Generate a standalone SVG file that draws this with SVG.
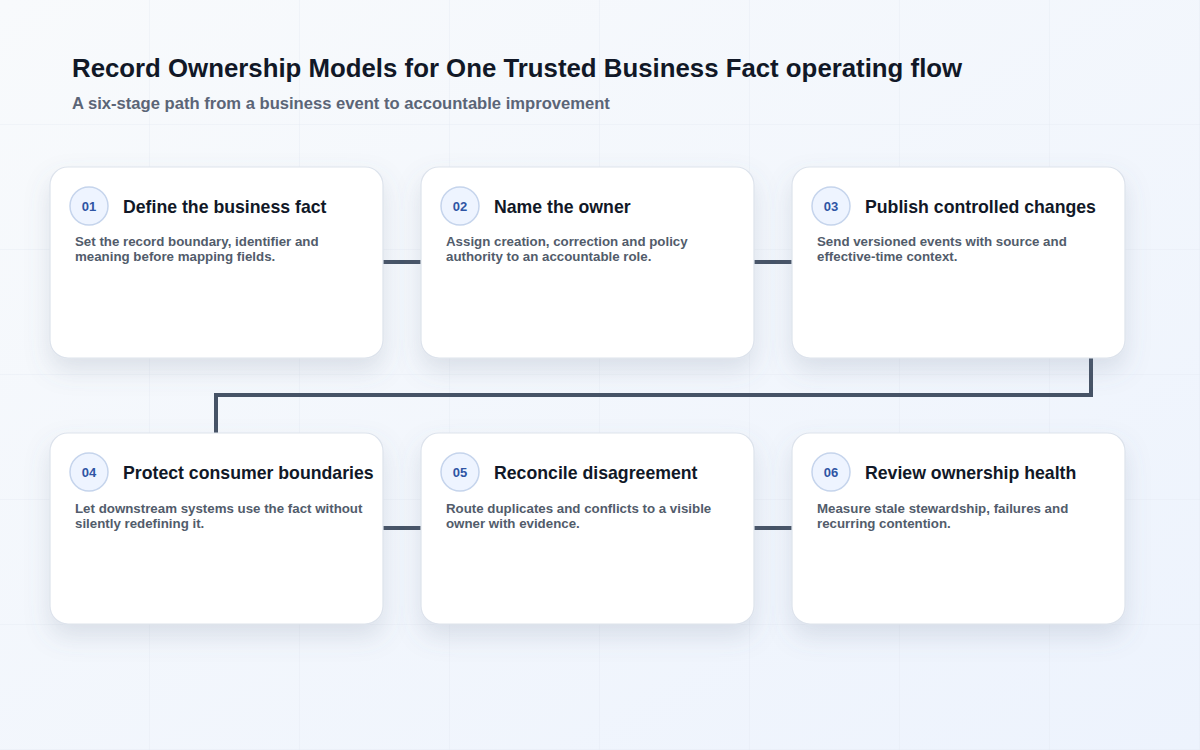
<svg xmlns="http://www.w3.org/2000/svg" width="1200" height="750" viewBox="0 0 1200 750">
  <defs>
    <linearGradient id="bg" x1="0" y1="0" x2="1" y2="1">
      <stop offset="0" stop-color="#f8fafc"/>
      <stop offset="1" stop-color="#edf3fd"/>
    </linearGradient>
    <pattern id="grid" width="150" height="125" patternUnits="userSpaceOnUse">
      <path d="M150 0V125M0 125H150" fill="none" stroke="#e3e9f2" stroke-width="1" opacity="0.7"/>
    </pattern>
    <filter id="shadow" x="-20%" y="-20%" width="140%" height="150%">
      <feDropShadow dx="0" dy="12" stdDeviation="12" flood-color="#64748b" flood-opacity="0.18"/>
    </filter>
    <style>
      .card { fill: #ffffff; stroke: #dde3ec; stroke-width: 1.2; filter: url(#shadow); }
      .badge { fill: #eef4ff; stroke: #c5d4ec; stroke-width: 1.5; }
      .num { font-family: "Liberation Sans", Arial, sans-serif; font-weight: bold; font-size: 13px; fill: #2f55a4; text-anchor: middle; }
      .ttl { font-family: "Liberation Sans", Arial, sans-serif; font-weight: bold; font-size: 17.7px; fill: #111827; }
      .body { font-family: "Liberation Sans", Arial, sans-serif; font-weight: bold; font-size: 13.3px; fill: #525c6b; }
      .conn { fill: none; stroke: #465366; stroke-width: 4; stroke-linejoin: miter; }
    </style>
  </defs>
  <rect width="1200" height="750" fill="url(#bg)"/>
  <rect width="1200" height="750" fill="url(#grid)"/>

  <text x="72" y="77" font-family="'Liberation Sans', Arial, sans-serif" font-weight="bold" font-size="25.8" fill="#111827">Record Ownership Models for One Trusted Business Fact operating flow</text>
  <text x="72" y="109" font-family="'Liberation Sans', Arial, sans-serif" font-weight="bold" font-size="16.6" fill="#5b6577">A six-stage path from a business event to accountable improvement</text>

  <g id="connectors">
    <path class="conn" d="M383 262H421"/>
    <path class="conn" d="M754 262H792"/>
    <path class="conn" d="M1091 358V395H216V433"/>
    <path class="conn" d="M383 528H421"/>
    <path class="conn" d="M754 528H792"/>
  </g>

  <g id="node1">
    <rect class="card" x="50" y="167" width="333" height="191" rx="18"/>
    <circle class="badge" cx="89" cy="206" r="19"/>
    <text class="num" x="89" y="211">01</text>
    <text class="ttl" x="123" y="213">Define the business fact</text>
    <text class="body" x="75" y="246">Set the record boundary, identifier and</text>
    <text class="body" x="75" y="261">meaning before mapping fields.</text>
  </g>
  <g id="node2">
    <rect class="card" x="421" y="167" width="333" height="191" rx="18"/>
    <circle class="badge" cx="460" cy="206" r="19"/>
    <text class="num" x="460" y="211">02</text>
    <text class="ttl" x="494" y="213">Name the owner</text>
    <text class="body" x="446" y="246">Assign creation, correction and policy</text>
    <text class="body" x="446" y="261">authority to an accountable role.</text>
  </g>
  <g id="node3">
    <rect class="card" x="792" y="167" width="333" height="191" rx="18"/>
    <circle class="badge" cx="831" cy="206" r="19"/>
    <text class="num" x="831" y="211">03</text>
    <text class="ttl" x="865" y="213">Publish controlled changes</text>
    <text class="body" x="817" y="246">Send versioned events with source and</text>
    <text class="body" x="817" y="261">effective-time context.</text>
  </g>
  <g id="node4">
    <rect class="card" x="50" y="433" width="333" height="191" rx="18"/>
    <circle class="badge" cx="89" cy="472" r="19"/>
    <text class="num" x="89" y="477">04</text>
    <text class="ttl" x="123" y="479">Protect consumer boundaries</text>
    <text class="body" x="75" y="513">Let downstream systems use the fact without</text>
    <text class="body" x="75" y="528">silently redefining it.</text>
  </g>
  <g id="node5">
    <rect class="card" x="421" y="433" width="333" height="191" rx="18"/>
    <circle class="badge" cx="460" cy="472" r="19"/>
    <text class="num" x="460" y="477">05</text>
    <text class="ttl" x="494" y="479">Reconcile disagreement</text>
    <text class="body" x="446" y="513">Route duplicates and conflicts to a visible</text>
    <text class="body" x="446" y="528">owner with evidence.</text>
  </g>
  <g id="node6">
    <rect class="card" x="792" y="433" width="333" height="191" rx="18"/>
    <circle class="badge" cx="831" cy="472" r="19"/>
    <text class="num" x="831" y="477">06</text>
    <text class="ttl" x="865" y="479">Review ownership health</text>
    <text class="body" x="817" y="513">Measure stale stewardship, failures and</text>
    <text class="body" x="817" y="528">recurring contention.</text>
  </g>
</svg>
